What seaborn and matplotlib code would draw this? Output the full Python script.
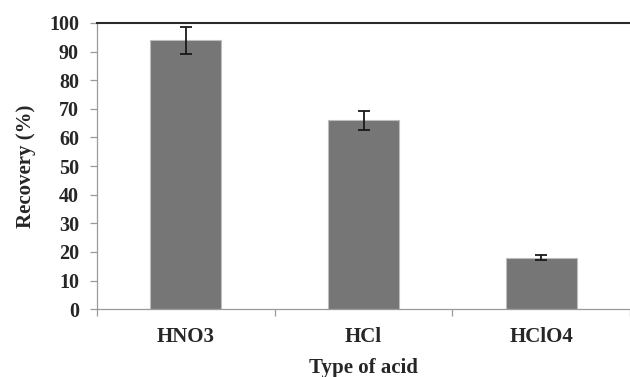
import pandas as pd
import matplotlib.pyplot as plt
import seaborn as sns

acids = ["HNO3", "HCl", "HClO4"]
recovery = [94, 66, 18]
recovery_err = [4.7, 3.3, 0.8]

df = pd.DataFrame({"acid": acids, "recovery": recovery})

sns.set_theme(style="white")
plt.rcParams["font.family"] = ["Liberation Serif", "DejaVu Serif"]
plt.rcParams["font.weight"] = "bold"

fig = plt.figure(figsize=(6.3, 3.77), dpi=100)
ax = fig.add_axes([0.154, 0.180, 0.846, 0.759])

sns.barplot(data=df, x="acid", y="recovery", order=acids, color="#767676",
            saturation=1, width=0.4, errorbar=None,
            edgecolor="#bdbdbd", linewidth=0.8, ax=ax)
ax.errorbar(range(len(acids)), recovery, yerr=recovery_err, fmt="none",
            ecolor="#1a1a1a", elinewidth=1.3, capsize=4.5, capthick=1.3)

ax.set_xlim(-0.5, 2.5)
ax.set_ylim(0, 100)
ax.set_yticks(range(0, 101, 10))

# category labels at centres, tick marks at boundaries
ax.set_xticks([-0.5, 0.5, 1.5, 2.5])
ax.set_xticklabels([])
ax.set_xticks(range(len(acids)), minor=True)
ax.set_xticklabels(acids, minor=True, fontsize=15, fontweight="bold")
ax.tick_params(axis="x", which="minor", length=0, pad=13)
ax.tick_params(axis="x", which="major", direction="out", length=5,
               color="#9a9a9a", width=0.9, bottom=True)
ax.tick_params(axis="y", direction="out", length=5, color="#9a9a9a",
               width=0.9, left=True, labelsize=14.5, pad=8)
for lab in ax.get_yticklabels():
    lab.set_fontweight("bold")

ax.set_xlabel("Type of acid", fontsize=15, fontweight="bold", labelpad=8)
ax.set_ylabel("Recovery (%)", fontsize=15, fontweight="bold", labelpad=9)

for side in ["left", "bottom"]:
    ax.spines[side].set_color("#9a9a9a")
    ax.spines[side].set_linewidth(0.9)
ax.spines["top"].set_color("#2a2a2a")
ax.spines["top"].set_linewidth(1.5)
ax.spines["right"].set_visible(False)

plt.savefig("out.png", dpi=100)
plt.close()
